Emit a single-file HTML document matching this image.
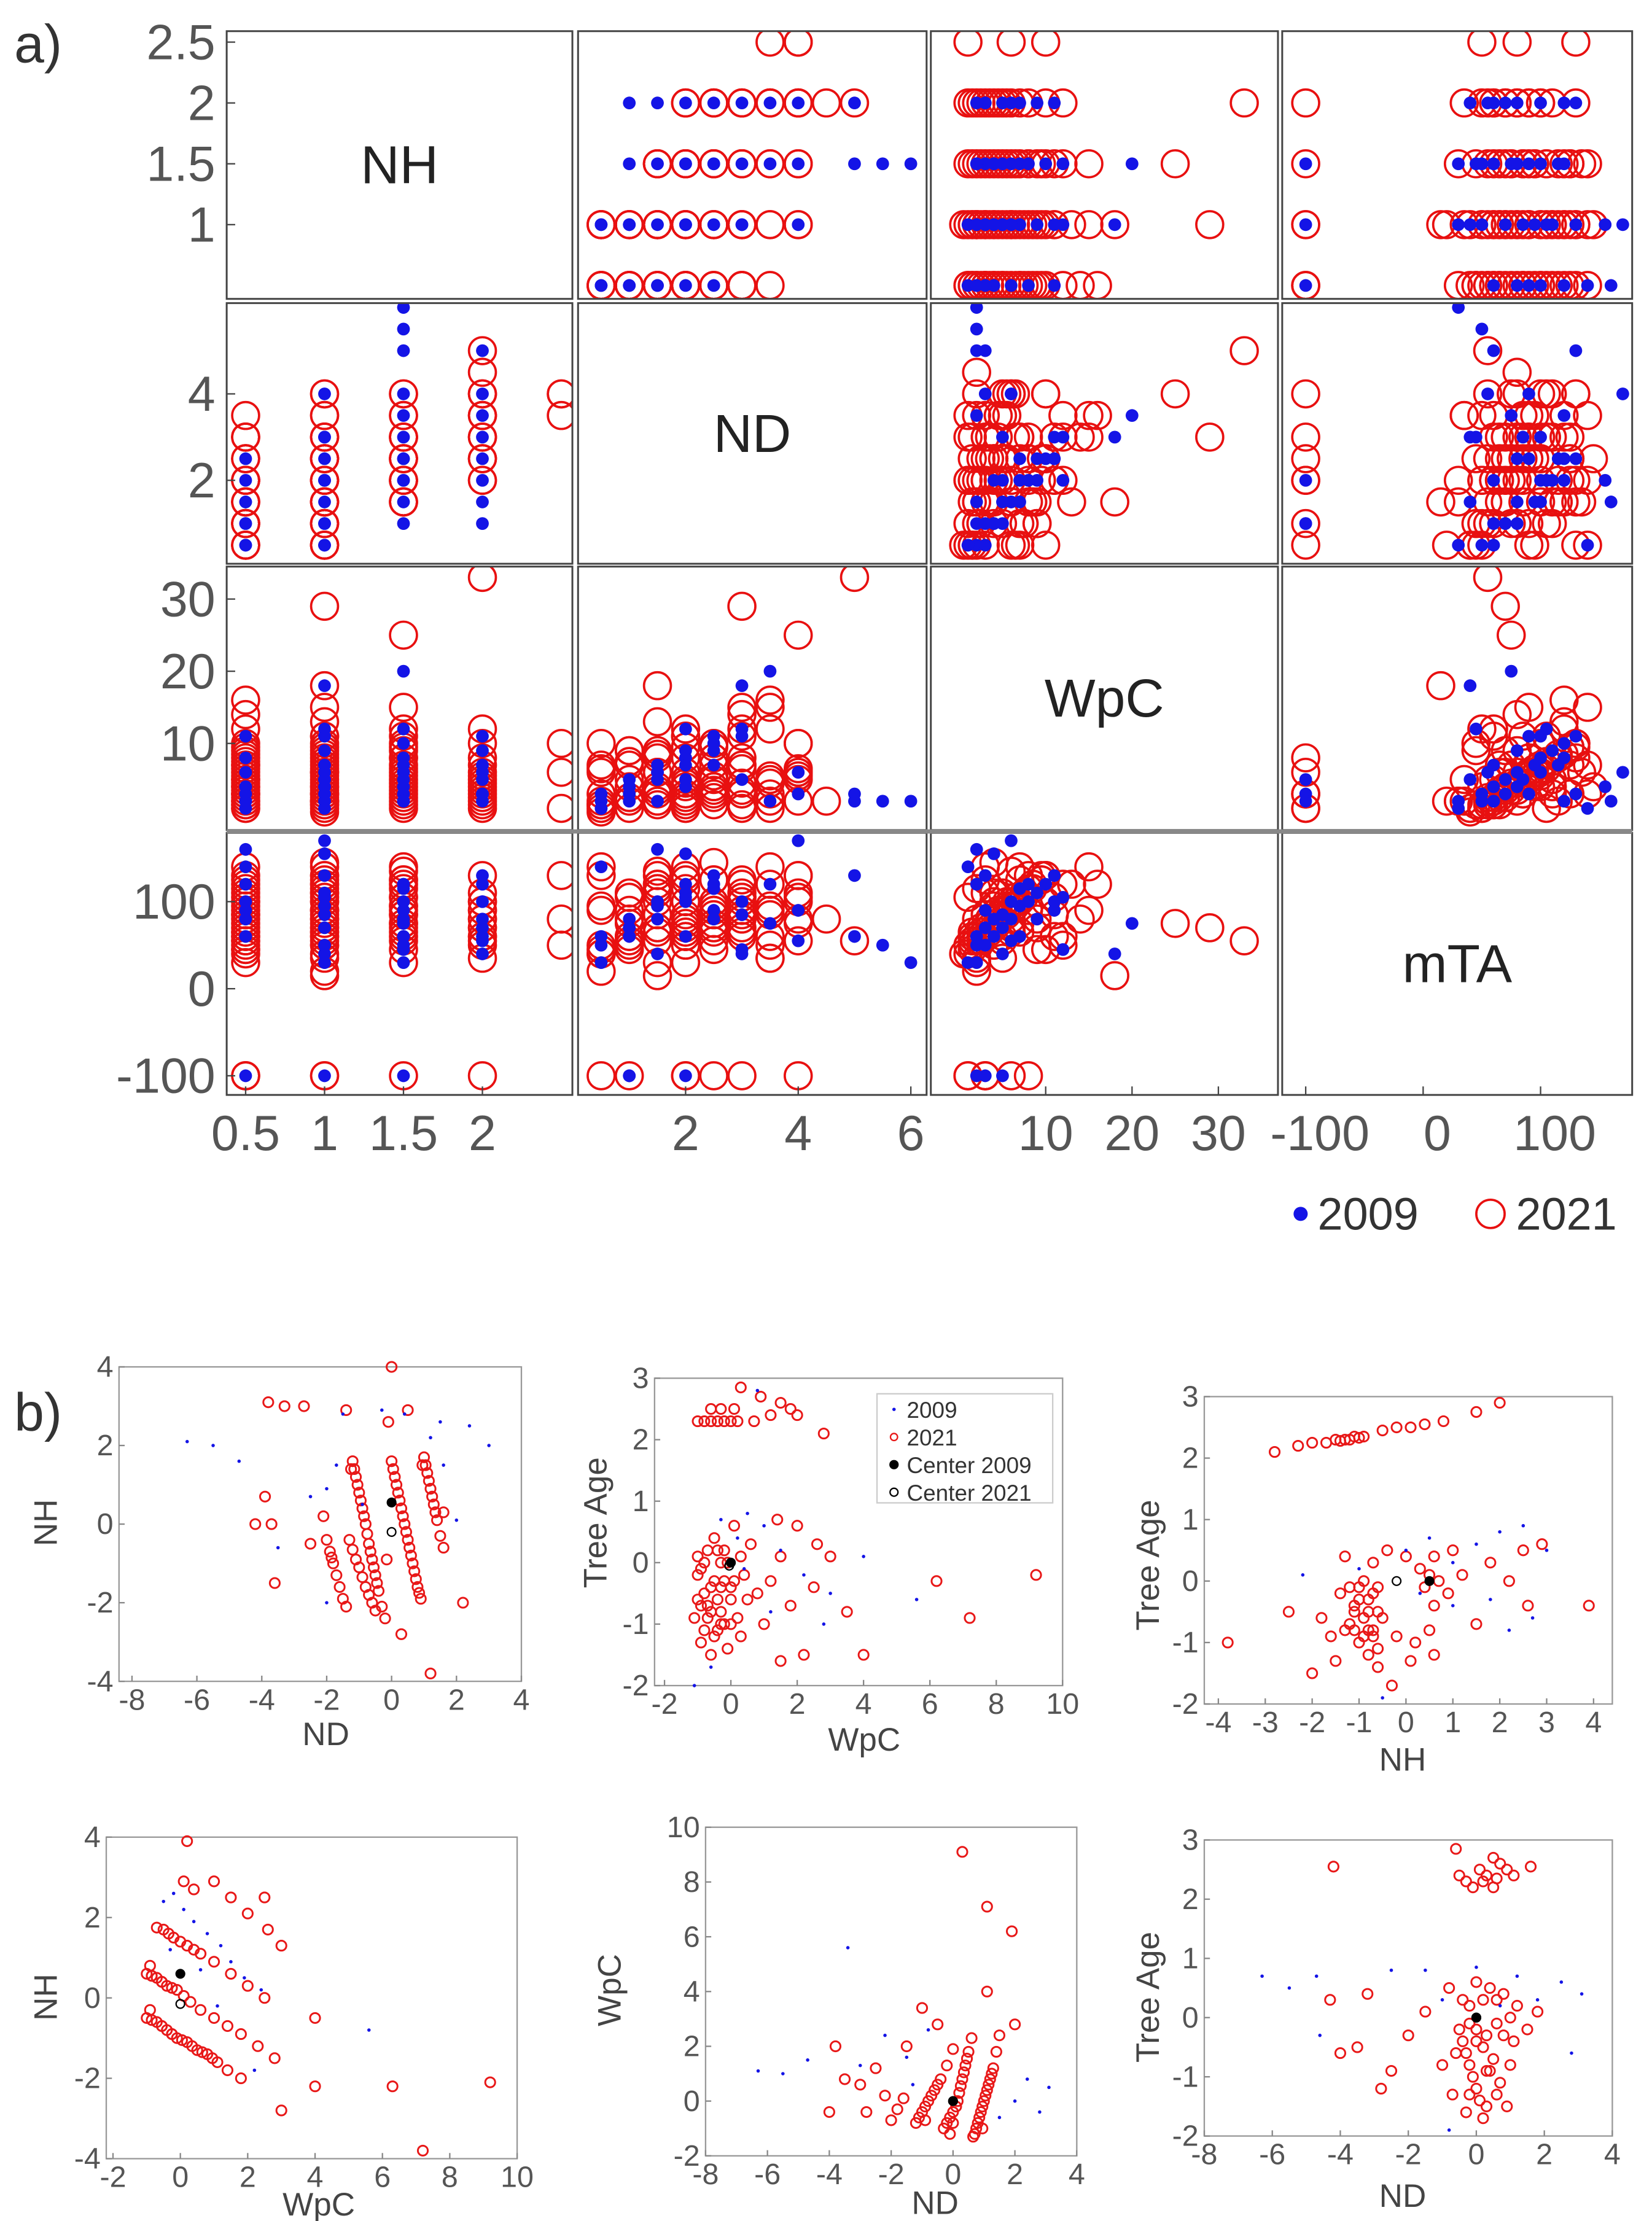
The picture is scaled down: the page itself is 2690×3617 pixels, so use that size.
<!DOCTYPE html>
<html><head><meta charset="utf-8"><title>Scatter matrix and standardized scatter plots</title>
<style>
html,body{margin:0;padding:0;background:#fff;}
svg{display:block;font-family:"Liberation Sans",Arial,sans-serif;}
</style></head>
<body>
<svg id="chart" width="2690" height="3617" viewBox="0 0 1166 1568" preserveAspectRatio="none" xmlns="http://www.w3.org/2000/svg">
<rect x="0" y="0" width="1166" height="1568" fill="#fff"/>
<text x="10" y="44" font-size="38" fill="#333">a)</text>
<text x="10" y="1010" font-size="38" fill="#333">b)</text>
</svg>
<script>
// ---------- Part a data: records (NH, ND, WpC, mTA) ----------
const nh2009  = [0.5,0.5,0.5,0.5,0.5,0.5,0.5,1,1,1,1,1,1,1,1,1,1,1.5,1.5,1.5,1.5,1.5,1.5,1.5,1.5,1.5,1.5,1.5,2,2,2,2,2,2,2,2,0.5,1,1.5,1];
const nd2009  = [0.5,1,1.5,2,2.5,1,0.5,0.5,1,1.5,2,2.5,3,4,1,2,0.5,1,1.5,2,2.5,3,3.5,4,5,5.5,6,2,1,1.5,2,2.5,3,3.5,5,4,1.5,2,2.5,3];
const wpc2009 = [2,4,6,8,11,3,1,3,5,7,9,11,18,6,2,4,1,4,6,8,10,12,20,3,2,2,2,5,3,5,7,9,11,2,3,6,2,12,7,5];
const mta2009 = [60,80,100,120,90,-100,140,50,70,95,110,130,40,170,-100,155,30,60,80,100,120,45,75,90,60,50,30,-100,70,40,60,80,100,120,130,55,160,105,115,85];

const nh2021  = [0.5,0.5,0.5,0.5,0.5,0.5,0.5,0.5,0.5,0.5,0.5,0.5,0.5,0.5,0.5,
  1,1,1,1,1,1,1,1,1,1,1,1,1,1,1,1,
  1.5,1.5,1.5,1.5,1.5,1.5,1.5,1.5,1.5,1.5,
  2,2,2,2,2,2,2,2,2,
  2.5,2.5,2.5,
  1,0.5,1,1.5,0.5,1,1.5,0.5,1,2,1.5,1,0.5,1,1.5,0.5,1,2,
  0.5,0.5,0.5,0.5,0.5,0.5,0.5,0.5,0.5,0.5,
  1,1,1,1,1,1,1,1,1,1,1,1,
  1.5,1.5,1.5,1.5,1.5,1.5,1.5,1.5,
  2,2,2,2,2];
const nd2021  = [0.5,0.5,1,1,1.5,1.5,2,2,2.5,3,3.5,1,0.5,2,3,
  0.5,1,1,1.5,1.5,2,2,2.5,3,3,4,3.5,0.5,2,1.5,2.5,
  1.5,2,2.5,3,3.5,4,2,2.5,3,1.5,
  2,2.5,3,3.5,4,4.5,5,4,3,
  3.5,4,4,
  1,1.5,2,2.5,2.5,1.5,3,1,3,3.5,1.5,0.5,2,2.5,2,3,4,2.5,
  0.5,1,1.5,2,2.5,0.5,1,1.5,2,3,
  0.5,1,1.5,2,2.5,3,1,1.5,2,0.5,2.5,3.5,
  1.5,2,2.5,3,3.5,4,2,2.5,
  2,2.5,3,3.5,4];
const wpc2021 = [1,3,2,5,4,8,6,12,10,14,16,1,7,2,3,
  2,4,9,6,13,3,11,8,29,15,5,2,10,1,18,4,
  2,5,8,12,15,25,3,10,1,6,
  1,4,8,12,10,2,33,6,3,
  1,6,10,
  7,3,6,4,5,2,7,9,11,5,9,6,4,3,11,7,2,7,
  1.5,2.5,3.5,4.5,5.5,6.5,7.5,8.5,9.5,1.5,
  1.5,2.5,3.5,4.5,5.5,6.5,7.5,8.5,9.5,0.5,1.5,3,
  1.5,2.5,3.5,4.5,5.5,6.5,8,9.5,
  1.5,2.5,3.5,4.5,5.5];
const mta2021 = [40,-100,60,90,110,130,70,50,100,80,120,-100,140,30,-100,
  20,50,80,100,120,140,60,-100,70,90,110,35,130,-100,15,145,
  30,60,90,120,140,75,-100,45,105,135,
  50,70,90,60,130,80,55,-100,110,
  50,80,130,
  75,85,65,95,55,115,125,45,105,35,70,90,100,125,85,65,55,100,
  45,55,65,75,85,95,105,115,125,60,
  50,60,70,80,90,100,110,120,130,40,65,85,
  55,65,75,85,95,105,115,125,
  60,70,80,90,100];

const varNames = ['NH','ND','WpC','mTA'];
const xTickVals = [[0.5,1,1.5,2],[2,4,6],[10,20,30],[-100,0,100]];
const yTickVals = [[2.5,2,1.5,1],[4,2],[30,20,10],[100,0,-100]];

// ---------- Part b data ----------
const b1x21=[-2,-1.9,-1.8,-1.7,-1.6,-1.5,-1.4,-2.1,-1.2,-1.1,-1,-0.9,-0.8,-0.7,-0.6,-0.5,-0.4,-0.3,-0.2,-0.1,0,0.1,0.2,0.3,0.4,0.5,0.6,0.7,0.8,0.9,1,1.1,1.2,1.3,1.4,1.5,1.6,-3.8,-3.3,-2.7,-4.2,-3.7,-3.6,-3.9,-2.5,0,1.6,2.2,0.3,1.2,-1.4,0.5,-1.85,-1.25,-0.15,0.95,
 -1.15,-1.05,-0.95,-0.85,-0.75,-0.65,-0.55,-0.45,0.05,0.15,0.25,0.35,0.45,0.55,0.65,0.75,0.85,1.05,1.15,1.25,1.35,-1.3,-1.2,-1.1,-1,-0.9,-0.8,-0.7,-0.6,-0.5];
const b1y21=[-0.4,-0.7,-1,-1.3,-1.6,-1.9,-2.1,0.2,1.6,1.2,0.8,0.4,0,-0.5,-0.9,-1.3,-1.7,-2.1,-2.4,2.6,1.6,1.2,0.8,0.4,0,-0.4,-0.8,-1.2,-1.6,-1.9,1.7,1.3,0.9,0.5,0.1,-0.3,-0.6,3.1,3,3,0,0,-1.5,0.7,-0.5,4,0.3,-2,-2.8,-3.8,2.9,2.9,-0.85,1.4,-0.9,1.5,
 1.4,1.0,0.6,0.2,-0.25,-0.7,-1.1,-1.5,1.4,1.0,0.6,0.2,-0.2,-0.6,-1.0,-1.4,-1.75,1.5,1.1,0.7,0.3,-0.4,-0.65,-0.9,-1.1,-1.35,-1.6,-1.8,-2,-2.2];
const b1x09=[-6.3,-5.5,-4.7,-1.5,-0.3,0.4,1.5,2.4,3,-2.5,-2,-1.7,1.2,2,-3.5,-2,1.6,-0.9];
const b1y09=[2.1,2,1.6,2.8,2.9,2.8,2.6,2.5,2,0.7,0.9,1.5,2.2,0.1,-0.6,-2,1.5,0.5];

const b2x21=[-1,-0.8,-0.6,-0.4,-0.2,0,0.2,-0.6,-0.3,0.1,0.7,0.9,1.2,1.5,2,2.8,0.3,1.8,-1,-0.8,-0.6,-0.4,-0.2,0,0.2,-0.9,-0.7,-0.5,-0.3,-0.1,0.4,0.6,0.8,1,1.2,1.5,1.8,2,2.5,3,3.5,4,2.2,1.5,-1.1,-0.6,0.1,-0.4,-0.8,0.3,6.2,7.2,9.2,1.4,2.6,-0.2,-0.7,-0.3,0,
 -1,-0.9,-0.7,-0.5,-0.3,-0.1,0.1,-0.6,-0.4,-0.2,-0.8,0,0.3,-1,-0.5,-0.3,0.5,-0.9];
const b2y21=[2.3,2.3,2.3,2.3,2.3,2.3,2.3,2.5,2.5,2.5,2.3,2.7,2.4,2.6,2.4,2.1,2.85,2.5,-0.2,-0.5,-0.8,-1.1,-0.3,-0.6,-0.9,-1.3,0.2,0.4,0,-1.4,-0.2,0.3,-0.5,-1,-0.3,0.1,-0.7,0.6,-0.4,0.1,-0.8,-1.5,-1.5,-1.6,-0.9,-1.5,0.6,-0.6,0,-1.2,-0.3,-0.9,-0.2,0.7,0.3,0.2,-0.7,-1.0,-0.4,
 -0.6,-0.1,-0.9,-0.3,-0.8,0,-0.3,-0.4,0.2,-1.0,-1.1,-1.0,0.1,0.1,-1.2,-0.4,-0.6,-0.7];
const b2x09=[0.5,1,0.2,1.5,2.2,3,4,5.6,0.8,-1.1,-0.6,1.2,2.8,0.4,-0.3];
const b2y09=[0.8,0.6,0.4,0.2,-0.2,-0.5,0.1,-0.6,2.8,-2,-1.7,-0.8,-1,-0.1,0.7];

const b3x21=[-2.8,-2.3,-2,-1.7,-1.5,-1.3,-1.1,-0.9,-0.5,-0.2,0.1,0.4,0.8,1.5,2,-1,-0.8,-0.6,-1.2,-0.9,-0.7,-1.4,-0.5,-1,-0.8,-0.6,-1.5,-2,-1.8,-2.5,-3.8,-0.2,0.2,0.5,0.6,0.3,0.6,0.9,1.2,1.5,1.8,2.5,2.9,2.6,3.9,-0.4,0,1,2.2,-1.3,-0.3,-1.1,-0.7,-1.3,
 -1.1,-0.9,-0.7,-1,-0.8,-0.6,-1.2,-0.9,-0.7,-1.1,-0.6,-0.8,0.5,0.4,0.7,0.6,-1.6,0.1,-1.2,-1.4,-1.0];
const b3y21=[2.1,2.2,2.25,2.25,2.3,2.3,2.35,2.35,2.45,2.5,2.5,2.55,2.6,2.75,2.9,-0.3,-0.5,-0.1,-0.7,0,0.3,-0.2,-0.6,-1,-1.2,-1.4,-1.3,-1.5,-0.6,-0.5,-1,-0.9,-1,-0.8,-1.2,0.2,0.4,-0.2,0.1,-0.7,0.3,0.5,0.6,-0.4,-0.4,0.5,0.4,0.5,0,0.4,-1.7,-0.5,-0.9,-0.8,
 -0.4,-0.6,-0.8,-0.1,-0.3,-0.5,-0.1,-0.9,-0.2,-0.8,-1.1,-0.8,0.1,-0.1,0,-0.4,-0.9,-1.3,2.3,2.28,2.33];
const b3x09=[0,0.5,1,1.5,2,2.5,3,1.8,2.2,1,-2.2,-0.5,0.3,2.7,-1];
const b3y09=[0.5,0.7,0.3,0.6,0.8,0.9,0.5,-0.3,-0.8,-0.4,0.1,-1.9,-0.2,-0.6,0.2];

const b4x21=[-1,-0.7,-0.4,-0.1,0.2,0.5,0.8,1.1,1.4,1.8,-1,-0.7,-0.4,-0.1,0.3,0.6,1,1.4,1.8,2.3,2.8,-0.5,-0.2,0.2,0.6,1,1.5,2,2.5,0.1,0.4,1,1.5,2,2.6,3,4,4,6.3,9.2,7.2,3,0.2,2.5,-0.85,-0.55,-0.25,-0.85,-0.55,
 -0.55,-0.25,0.05,0.35,-0.85,-0.55,-0.25,0.1,-0.35,0,0.4,-0.7,-0.9,-0.9,0.65,0.95];
const b4y21=[-0.5,-0.6,-0.8,-1,-1.1,-1.3,-1.4,-1.6,-1.8,-2,0.6,0.5,0.3,0.2,-0.1,-0.3,-0.5,-0.7,-0.9,-1.2,-1.5,1.7,1.5,1.3,1.1,0.9,0.6,0.3,0,2.9,2.7,2.9,2.5,2.1,1.7,1.3,-0.5,-2.2,-2.2,-2.1,-3.8,-2.8,3.9,2.5,-0.55,-0.7,-0.9,0.55,0.4,
 -0.7,-0.9,-1.05,-1.2,0.55,0.4,0.25,0.05,1.6,1.4,1.2,1.75,-0.3,0.8,-1.35,-1.5];
const b4x09=[-0.5,-0.2,0.1,0.4,0.8,1.2,1.5,1.9,2.4,-0.3,0.6,5.6,2.2,1.1];
const b4y09=[2.4,2.6,2.2,1.9,1.6,1.3,0.9,0.5,0.2,1.2,0.7,-0.8,-1.8,-0.2];

const b5x21=[-2,-1.8,-1.6,-1.2,-1,-0.8,-0.6,-0.4,-0.2,-0.3,-0.1,0.1,0.2,0.3,0.4,0.5,0.6,0.7,0.8,0.9,1,1.1,1.2,1.3,1.4,1.5,-4,-3.8,-3.5,-3,-2.5,-2.2,-1.5,-1,-0.5,0.3,1.1,1.9,1.1,2,0,-2.8,-0.9,0.0,0.95,
 -1.1,-0.9,-0.7,-0.5,-0.2,0,0.15,0.25,0.35,0.45,0.75,0.85,0.95,1.05,1.15,1.25,-0.1,0.65];
const b5y21=[-0.7,-0.3,0.1,-0.8,-0.4,0,0.4,0.8,1.3,-1,-0.6,-0.2,0.3,0.8,1.3,1.8,2.3,-1.2,-0.8,-0.4,0,0.4,0.8,1.2,1.8,2.4,-0.4,2,0.8,0.6,1.2,0.2,2,3.4,2.8,9.1,7.1,6.2,4,2.8,1.9,-0.4,-0.7,-0.8,-1.0,
 -0.6,-0.2,0.2,0.6,-0.8,-0.4,0,0.55,1.05,1.55,-1,-0.6,-0.2,0.2,0.6,1.0,-1.2,-1.3];
const b5x09=[-6.3,-5.5,-4.7,-3.4,-3,-2.2,-1.5,-0.8,1.5,2,2.8,3.1,2.4,-1.3];
const b5y09=[1.1,1,1.5,5.6,1.3,2.4,1.6,2.6,-0.6,0,-0.4,0.5,0.8,0.6];

const b6x21=[-0.5,-0.3,-0.1,0.1,0.3,0.5,0.7,0.9,1.1,1.6,-0.6,-4.2,0.5,-0.5,-0.3,-0.1,0.1,0.3,0.5,0.7,0.9,1.1,1.2,0.8,0.4,0,-0.4,-0.7,-1,-1.5,-2,-2.5,-3.5,-4,-3.2,-4.3,-2.8,1.5,1.8,0.2,-0.2,0.6,-0.8,0.0,0.3,-0.2,
 -0.4,-0.2,0,0.2,0.4,0.6,0.8,1,-0.2,0.2,0.6,-0.6,0.3,-0.3,1,0,0.2,0.6];
const b6y21=[2.4,2.3,2.2,2.5,2.4,2.2,2.6,2.5,2.4,2.55,2.85,2.55,2.7,-0.2,-0.6,-1,-1.4,-0.3,-0.7,-1.1,-1.5,-0.4,0.2,0.4,0.5,0.6,0.3,-1.3,-0.8,0.1,-0.3,-0.9,-0.5,-0.6,0.4,0.3,-1.2,-0.2,0.1,-1.7,-1.3,-0.1,0.5,-0.4,-0.9,-0.1,
 -0.4,-0.8,-1.2,-0.5,-0.9,-1.3,-0.3,-0.8,0.2,0.3,0.3,-0.6,-1.5,-1.6,0,-0.2,2.3,2.35];
const b6x09=[-6.3,-5.5,-4.7,-2.5,-1.5,0,1.2,1.8,3.1,2.5,-4.6,-0.8,2.8,-1,0.7];
const b6y09=[0.7,0.5,0.7,0.8,0.8,0.85,0.7,0.3,0.4,0.6,-0.3,-1.9,-0.6,0.3,0.2];

const centersX09=[0,0,0.5,0,0,0];
const centersY09=[0.55,0,0,0.6,0,0];
const centersX21=[0,-0.05,-0.2,0,0,0];
const centersY21=[-0.2,-0.05,0,-0.15,0,0];

const NS='http://www.w3.org/2000/svg';
const svg=document.getElementById('chart');
function el(tag,parent){const e=document.createElementNS(NS,tag);parent.appendChild(e);return e;}
function lin(d0,d1,r0,r1){return v=>r0+(v-d0)/(d1-d0)*(r1-r0);}
function txt(parent,x,y,s,size,anchor,fill){const t=el('text',parent);t.setAttribute('x',x);t.setAttribute('y',y);t.setAttribute('font-size',size);t.setAttribute('text-anchor',anchor);t.setAttribute('fill',fill||'#444');t.textContent=s;return t;}

// ---------- Part a ----------
const A_COLS=[[160,404],[408,654],[657,902],[905,1152]];
const A_ROWS=[[22,211],[214,398],[400,586],[588,773]];
const XDOM=[[0.38,2.57],[0.09,6.28],[-3.3,36.9],[-120,178]];
const YDOM=[[0.39,2.59],[0.07,6.1],[-2,34.5],[-122,179]];
const dataA09=[nh2009,nd2009,wpc2009,mta2009];
const dataA21=[nh2021,nd2021,wpc2021,mta2021];
const gA=el('g',svg);


for(let r=0;r<4;r++){for(let c=0;c<4;c++){
  const [x0,x1]=A_COLS[c],[y0,y1]=A_ROWS[r];
  const g=el('g',gA);
  
  
  const cp=el('clipPath',g);cp.setAttribute('id','ca'+r+c);
  const cr=el('rect',cp);cr.setAttribute('x',x0);cr.setAttribute('y',y0);cr.setAttribute('width',x1-x0);cr.setAttribute('height',y1-y0);
  if(r===c){
    const t=txt(g,(x0+x1)/2,(y0+y1)/2+13,varNames[r],38,'middle','#222');
    
    
  } else {
    const sx=lin(XDOM[c][0],XDOM[c][1],x0,x1), sy=lin(YDOM[r][0],YDOM[r][1],y1,y0);
    const pg=el('g',g);pg.setAttribute('clip-path','url(#ca'+r+c+')');
    const xs21=dataA21[c],ys21=dataA21[r];
    for(let i=0;i<xs21.length;i++){
      const ci=el('circle',pg);
      
      
      ci.setAttribute('cx',sx(xs21[i]));ci.setAttribute('cy',sy(ys21[i]));ci.setAttribute('r',9.5);
      ci.setAttribute('fill','none');ci.setAttribute('stroke','#e81010');ci.setAttribute('stroke-width',1.6);
    }
    const xs09=dataA09[c],ys09=dataA09[r];
    for(let i=0;i<xs09.length;i++){
      const ci=el('circle',pg);
      
      
      ci.setAttribute('cx',sx(xs09[i]));ci.setAttribute('cy',sy(ys09[i]));ci.setAttribute('r',4.5);
      ci.setAttribute('fill','#1414e6');
    }
  }
  const fr=el('rect',g);
  
  
  fr.setAttribute('x',x0);fr.setAttribute('y',y0);fr.setAttribute('width',x1-x0);fr.setAttribute('height',y1-y0);
  fr.setAttribute('fill','none');fr.setAttribute('stroke','#444');fr.setAttribute('stroke-width',1.3);
}}
const sep=el('line',gA);


sep.setAttribute('x1',160);sep.setAttribute('x2',1152);sep.setAttribute('y1',587);sep.setAttribute('y2',587);sep.setAttribute('stroke','#888');sep.setAttribute('stroke-width',3);
for(let r=0;r<4;r++){const sy=lin(YDOM[r][0],YDOM[r][1],A_ROWS[r][1],A_ROWS[r][0]);
  yTickVals[r].forEach(v=>{const t=txt(gA,152,sy(v)+12,String(v),35,'end','#555');
    
    
    const tk=el('line',gA);tk.setAttribute('x1',160);tk.setAttribute('x2',166);tk.setAttribute('y1',sy(v));tk.setAttribute('y2',sy(v));tk.setAttribute('stroke','#444');
  });}
for(let c=0;c<4;c++){const sx=lin(XDOM[c][0],XDOM[c][1],A_COLS[c][0],A_COLS[c][1]);
  xTickVals[c].forEach(v=>{const t=txt(gA,sx(v)+(c===3?10:0),812,String(v),35,'middle','#555');
    
    
    const tk=el('line',gA);tk.setAttribute('x1',sx(v));tk.setAttribute('x2',sx(v));tk.setAttribute('y1',773);tk.setAttribute('y2',767);tk.setAttribute('stroke','#444');
  });}
const lg=el('g',svg);


const l1=el('circle',lg);l1.setAttribute('cx',918);l1.setAttribute('cy',857);l1.setAttribute('r',5);l1.setAttribute('fill','#1414e6');


const lt1=txt(lg,930,868,'2009',32,'start','#333');


const l2=el('circle',lg);l2.setAttribute('cx',1052);l2.setAttribute('cy',857);l2.setAttribute('r',10);l2.setAttribute('fill','none');l2.setAttribute('stroke','#e81010');l2.setAttribute('stroke-width',1.6);


const lt2=txt(lg,1070,868,'2021',32,'start','#333');



// ---------- Part b ----------
function range(a,b,s){const o=[];for(let v=a;v<=b+1e-9;v+=s)o.push(Math.round(v*100)/100);return o;}
const BP=[
 {px:[84,368],py:[965,1187],xd:[-8.4,4],yd:[-4,4],xt:range(-8,4,2),yt:range(-4,4,2),xl:'ND',yl:'NH',xlx:230,xly:1232,ylp:[40,1075],x21:b1x21,y21:b1y21,x09:b1x09,y09:b1y09},
 {px:[462,750],py:[973,1190],xd:[-2.3,10],yd:[-2,3],xt:range(-2,10,2),yt:range(-2,3,1),xl:'WpC',yl:'Tree Age',xlx:610,xly:1236,ylp:[428,1075],x21:b2x21,y21:b2y21,x09:b2x09,y09:b2y09},
 {px:[850,1138],py:[986,1203],xd:[-4.3,4.4],yd:[-2,3],xt:range(-4,4,1),yt:range(-2,3,1),xl:'NH',yl:'Tree Age',xlx:990,xly:1250,ylp:[818,1105],x21:b3x21,y21:b3y21,x09:b3x09,y09:b3y09},
 {px:[75,365],py:[1297,1524],xd:[-2.2,10],yd:[-4,4],xt:range(-2,10,2),yt:range(-4,4,2),xl:'WpC',yl:'NH',xlx:225,xly:1564,ylp:[40,1410],x21:b4x21,y21:b4y21,x09:b4x09,y09:b4y09},
 {px:[498,760],py:[1290,1522],xd:[-8,4],yd:[-2,10],xt:range(-8,4,2),yt:range(-2,10,2),xl:'ND',yl:'WpC',xlx:660,xly:1563,ylp:[438,1405],x21:b5x21,y21:b5y21,x09:b5x09,y09:b5y09},
 {px:[850,1138],py:[1299,1508],xd:[-8,4],yd:[-2,3],xt:range(-8,4,2),yt:range(-2,3,1),xl:'ND',yl:'Tree Age',xlx:990,xly:1558,ylp:[818,1410],x21:b6x21,y21:b6y21,x09:b6x09,y09:b6y09}
];
BP.forEach((p,k)=>{
  const g=el('g',svg);
  
  
  const sx=lin(p.xd[0],p.xd[1],p.px[0],p.px[1]), sy=lin(p.yd[0],p.yd[1],p.py[1],p.py[0]);
  const fr=el('rect',g);
  
  
  fr.setAttribute('x',p.px[0]);fr.setAttribute('y',p.py[0]);fr.setAttribute('width',p.px[1]-p.px[0]);fr.setAttribute('height',p.py[1]-p.py[0]);
  fr.setAttribute('fill','none');fr.setAttribute('stroke','#999');fr.setAttribute('stroke-width',1);
  p.xt.forEach(v=>{const t=txt(g,sx(v),p.py[1]+20,String(v),21,'middle','#555');
    
    
    const tk=el('line',g);tk.setAttribute('x1',sx(v));tk.setAttribute('x2',sx(v));tk.setAttribute('y1',p.py[1]);tk.setAttribute('y2',p.py[1]-4);tk.setAttribute('stroke','#888');});
  p.yt.forEach(v=>{const t=txt(g,p.px[0]-4,sy(v)+7,String(v),21,'end','#555');
    
    
    const tk=el('line',g);tk.setAttribute('x1',p.px[0]);tk.setAttribute('x2',p.px[0]+4);tk.setAttribute('y1',sy(v));tk.setAttribute('y2',sy(v));tk.setAttribute('stroke','#888');});
  const xlab=txt(g,p.xlx,p.xly,p.xl,23,'middle','#444');
  
  
  const ylab=txt(g,0,0,p.yl,23,'middle','#444');
  
  
  ylab.setAttribute('transform','translate('+p.ylp[0]+','+p.ylp[1]+') rotate(-90)');
  for(let i=0;i<p.x21.length;i++){
    const c=el('circle',g);
    
    
    c.setAttribute('cx',sx(p.x21[i]));c.setAttribute('cy',sy(p.y21[i]));c.setAttribute('r',3.5);
    c.setAttribute('fill','none');c.setAttribute('stroke','#e81818');c.setAttribute('stroke-width',1.3);
  }
  for(let i=0;i<p.x09.length;i++){
    const c=el('circle',g);
    
    
    c.setAttribute('cx',sx(p.x09[i]));c.setAttribute('cy',sy(p.y09[i]));c.setAttribute('r',1.2);
    c.setAttribute('fill','#1414e6');
  }
  const c9=el('circle',g);
  
  
  c9.setAttribute('cx',sx(centersX09[k]));c9.setAttribute('cy',sy(centersY09[k]));c9.setAttribute('r',3.5);c9.setAttribute('fill','#000');
  const c21=el('circle',g);
  
  
  c21.setAttribute('cx',sx(centersX21[k]));c21.setAttribute('cy',sy(centersY21[k]));c21.setAttribute('r',3);c21.setAttribute('fill','none');c21.setAttribute('stroke','#000');c21.setAttribute('stroke-width',1);
});
const lb=el('g',svg);


const lbr=el('rect',lb);lbr.setAttribute('x',619);lbr.setAttribute('y',984);lbr.setAttribute('width',124);lbr.setAttribute('height',77);lbr.setAttribute('fill','#fff');lbr.setAttribute('stroke','#ccc');
const entries=[['2009','dot'],['2021','red'],['Center 2009','black'],['Center 2021','open']];
entries.forEach((e,i)=>{const y=995+i*19.5;
  const m=el('circle',lb);
  
  
  m.setAttribute('cx',631);m.setAttribute('cy',y);
  if(e[1]==='dot'){m.setAttribute('r',1.2);m.setAttribute('fill','#1414e6');}
  else if(e[1]==='red'){m.setAttribute('r',2.5);m.setAttribute('fill','none');m.setAttribute('stroke','#e81818');}
  else if(e[1]==='black'){m.setAttribute('r',3.3);m.setAttribute('fill','#000');}
  else {m.setAttribute('r',2.8);m.setAttribute('fill','none');m.setAttribute('stroke','#000');}
  const t=txt(lb,640,y+6,e[0],16,'start','#333');
  
  
});
</script>
</body></html>
